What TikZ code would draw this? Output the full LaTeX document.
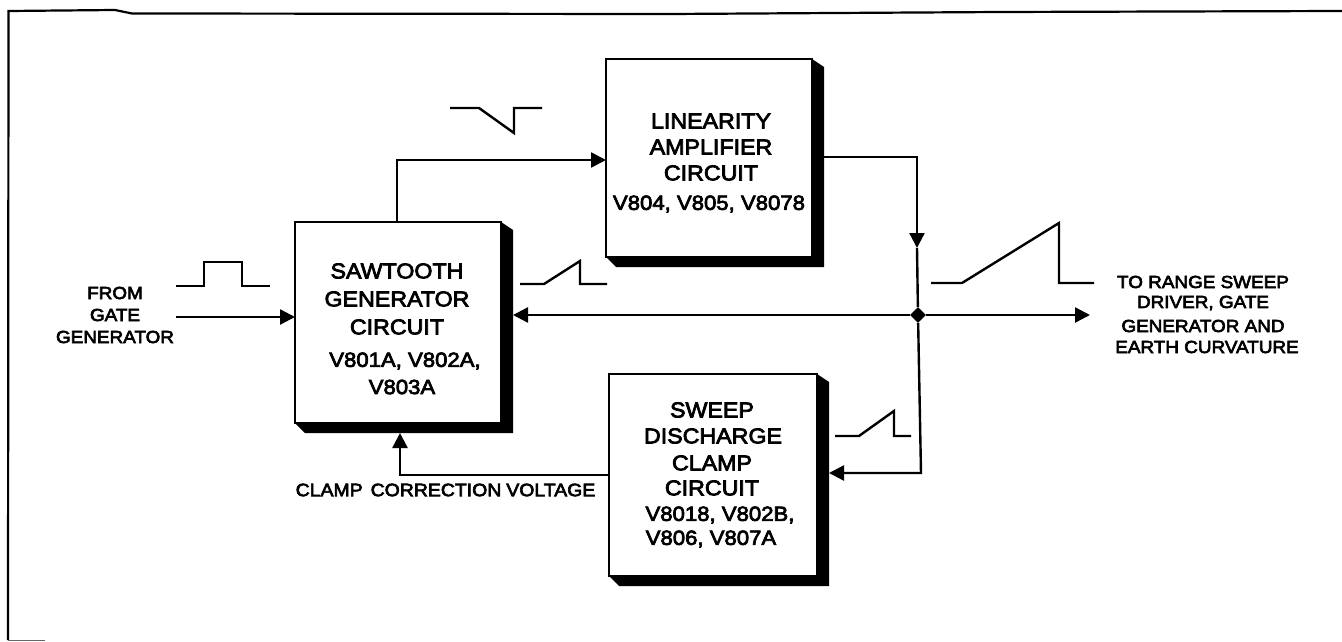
\documentclass[tikz,border=0pt]{standalone}
\usepackage{fontspec}
\setmainfont[FakeBold=3.5,FakeStretch=1.08]{Liberation Sans}
\usetikzlibrary{arrows.meta,shapes.geometric}
\newcommand{\blockshadow}[1]{%
  \fill[black] (#1.north east) -- ([shift={(12,8)}]#1.north east) -- ([shift={(12,10)}]#1.south east)
    -- ([shift={(10,10)}]#1.south west) -- (#1.south west) -- (#1.south east) -- cycle;}
\tikzset{
  x=1pt,y=-1pt,
  block/.style={draw=black,fill=white,line width=2.2pt,inner sep=0pt,outer sep=0pt,minimum width=#1},
  wire/.style={draw=black,line width=2.4pt,line join=miter},
  flow/.style={wire,-{Triangle[length=15pt,width=15pt]}},
  wave/.style={draw=black,line width=2.4pt,line join=miter},
  big/.style={font=\fontsize{21.5}{24}\selectfont,inner sep=0pt,anchor=center},
  small/.style={font=\fontsize{20.5}{22}\selectfont,inner sep=0pt,anchor=center},
  label/.style={font=\fontsize{17.5}{20}\selectfont,inner sep=0pt,anchor=center},
}
\begin{document}
\begin{tikzpicture}
\useasboundingbox (0,0) rectangle (1342,642);
% sheet outline
\draw[line width=2.2pt,black] (8,640) -- (8.5,11) -- (115,10) -- (132,13.5) -- (670,14) -- (1000,12) -- (1342,11);
\draw[line width=1pt,black!60] (8,640.5) -- (45,640.5);
% blocks
\node[block=206pt,minimum height=201pt] (saw) at (398,322.5) {};
\node[block=206pt,minimum height=198pt] (lin) at (709,158) {};
\node[block=208pt,minimum height=202pt] (clp) at (713,475) {};
\blockshadow{saw}\blockshadow{lin}\blockshadow{clp}
% ports and bends
\coordinate (inS) at (176,317);
\coordinate (inE) at (295,317);
\coordinate (sawTop) at (397,222);
\coordinate (upBend) at (397,160);
\coordinate (linIn) at (606,160);
\coordinate (linOut) at (823,157);
\coordinate (outBend) at (917,157);
\coordinate (midTip) at (917,248);
\coordinate (sawBack) at (513,315);
\coordinate (outEnd) at (1090,315);
\coordinate (dropBend) at (921,473);
\coordinate (clpIn) at (829,473);
\coordinate (clpOut) at (609,475);
\coordinate (clampBend) at (400,475);
\coordinate (sawIn) at (400,433);
\node[diamond,fill=black,inner sep=0pt,minimum size=16pt] (junction) at (918,315) {};
% connectors
\draw[flow] (inS) -- (inE);
\draw[flow] (sawTop) -- (upBend) -- (linIn);
\draw[flow] (linOut) -- (outBend) -- (midTip);
\draw[wire] (midTip) -- (junction);
\draw[flow] (junction) -- (sawBack);
\draw[flow] (junction) -- (outEnd);
\draw[flow] (junction) -- (dropBend) -- (clpIn);
\draw[flow] (clpOut) -- (clampBend) -- (sawIn);
% waveforms
\draw[wave] (176,286) -- (204,286) -- (204,262) -- (242,262) -- (242,286) -- (270,286);
\draw[wave] (450,108) -- (479,108) -- (514,133) -- (514,108) -- (542,108);
\draw[wave] (520,284) -- (544,284) -- (580,261) -- (580,284) -- (607,284);
\draw[wave] (931,283) -- (962,283) -- (1059,223) -- (1059,283) -- (1094,283);
\draw[wave] (835,436) -- (859,436) -- (894,411) -- (894,436) -- (911,436);
% block texts
\node[big] (t1) at (397,271) {SAWTOOTH};
\node[big] (t2) at (397,299) {GENERATOR};
\node[big] (t3) at (397,327) {CIRCUIT};
\node[small] (t4) at (405,361) {V801A, V802A,};
\node[small] (t5) at (402,387) {V803A};
\node[big] (t6) at (711,121) {LINEARITY};
\node[big] (t7) at (711,147) {AMPLIFIER};
\node[big] (t8) at (711,173) {CIRCUIT};
\node[small] (t9) at (709,204) {V804, V805, V8078};
\node[big] (t10) at (712,410) {SWEEP};
\node[big] (t11) at (713,436) {DISCHARGE};
\node[big] (t12) at (712,463) {CLAMP};
\node[big] (t13) at (712,488) {CIRCUIT};
\node[small] (t14) at (720,515) {V8018, V802B,};
\node[small] (t15) at (711,539) {V806, V807A};
% outside labels
\node[label] (f1) at (115,293) {FROM};
\node[label] (f2) at (115,315) {GATE};
\node[label] (f3) at (115,337) {GENERATOR};
\node[label,font=\fontsize{18}{20}\selectfont] (c1) at (445.5,490) {CLAMP\hspace{8pt}CORRECTION\hspace{5pt}VOLTAGE};
\node[label] (o1) at (1203,282) {TO RANGE SWEEP};
\node[label] (o2) at (1203,303) {DRIVER, GATE};
\node[label] (o3) at (1203,326) {GENERATOR AND};
\node[label] (o4) at (1207,347) {EARTH CURVATURE};
\end{tikzpicture}
\end{document}
